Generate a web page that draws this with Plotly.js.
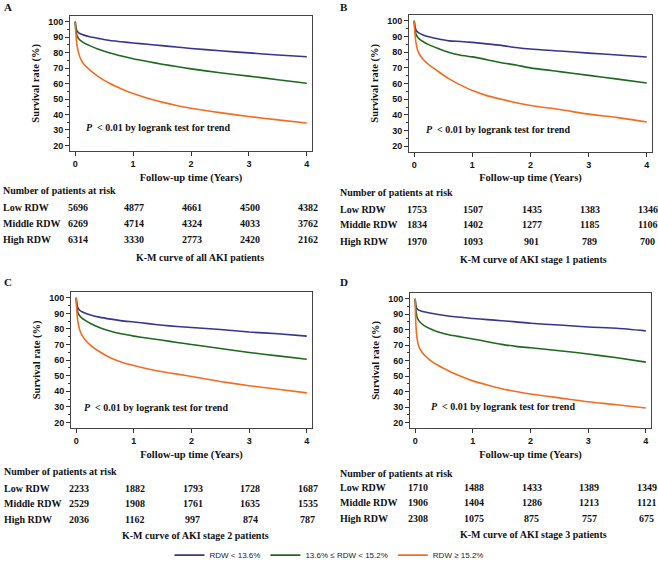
<!DOCTYPE html>
<html>
<head>
<meta charset="utf-8">
<script src="https://cdn.plot.ly/plotly-3.0.1.min.js"></script>
<style>html,body{margin:0;padding:0;background:#fff;}#chart{width:658px;height:570px;}</style>
</head>
<body>
<div id="chart"></div>
<script>
// ---- data ----
const timeYears = [0, 0.01, 0.03, 0.06, 0.1, 0.15, 0.25, 0.4, 0.6, 0.8, 1, 1.25, 1.5, 1.75, 2, 2.5, 3, 3.5, 4];

const lowA    = [100, 97, 94, 92.8, 92, 91.3, 90.3, 89.2, 87.8, 87, 86.2, 85.4, 84.5, 83.6, 82.7, 81.2, 79.8, 78.5, 77.3];
const middleA = [100, 95, 91, 89, 87.6, 86.3, 84.5, 82.2, 79.8, 77.8, 76, 74.2, 72.5, 71, 69.5, 67, 64.8, 62.5, 60.2];
const highA   = [100, 93, 85, 79.5, 75.5, 72.5, 68.8, 64.5, 60, 56.5, 53.5, 50.5, 48, 45.8, 44, 41.2, 38.7, 36.5, 34.5];

const lowB    = [100, 97, 94, 92.8, 91.8, 91, 89.8, 88.5, 87.2, 86.8, 86.2, 85.3, 84.3, 83, 82, 80.7, 79.4, 78.2, 76.9];
const middleB = [100, 95, 91.5, 89.5, 88, 86.8, 84.8, 82.5, 79.8, 78, 77, 75.2, 73.3, 71.8, 70, 67.6, 65.2, 62.8, 60.4];
const highB   = [100, 93, 86, 81, 78, 75.5, 72, 68, 63, 59, 55.5, 52.3, 50, 47.8, 46, 43.5, 40.5, 38.3, 35.5];

const lowC    = [100, 96.5, 93.5, 92, 91, 90.2, 89, 87.6, 86.3, 85.2, 84.5, 83.4, 82.4, 81.6, 80.9, 79.6, 78, 76.9, 75.4];
const middleC = [100, 95, 90.5, 88.5, 87, 85.7, 83.5, 81, 78.5, 76.7, 75.4, 74, 72.7, 71.3, 70, 67.5, 64.9, 62.7, 60.6];
const highC   = [100, 92, 84.5, 79.5, 76, 73.3, 69.5, 65.5, 61.3, 58.5, 56.5, 54.3, 52.5, 51, 49.5, 46.3, 43.6, 41.3, 39];

const lowD    = [100, 96, 93.5, 92.6, 92.1, 91.6, 90.8, 89.8, 88.7, 88, 87.2, 86.5, 85.8, 85, 84.1, 83, 81.7, 80.9, 79.2];
const middleD = [100, 93.5, 88.5, 86, 84.3, 82.8, 80.8, 78.5, 76.5, 75.3, 74, 72.2, 70.5, 69.2, 68.3, 66.4, 64.3, 61.8, 59];
const highD   = [100, 85, 75, 69.5, 66.5, 64, 60.5, 56.8, 53, 49.7, 46.9, 44.2, 41.8, 40, 38.4, 35.9, 33.4, 31.5, 29.4];

const riskTimes = [0, 1, 2, 3, 4];
const riskLowA = [5696, 4877, 4661, 4500, 4382];
const riskMidA = [6269, 4714, 4324, 4033, 3762];
const riskHighA = [6314, 3330, 2773, 2420, 2162];
const riskLowB = [1753, 1507, 1435, 1383, 1346];
const riskMidB = [1834, 1402, 1277, 1185, 1106];
const riskHighB = [1970, 1093, 901, 789, 700];
const riskLowC = [2233, 1882, 1793, 1728, 1687];
const riskMidC = [2529, 1908, 1761, 1635, 1535];
const riskHighC = [2036, 1162, 997, 874, 787];
const riskLowD = [1710, 1488, 1433, 1389, 1349];
const riskMidD = [1906, 1404, 1286, 1213, 1121];
const riskHighD = [2308, 1075, 875, 757, 675];

const groupNames = ["RDW < 13.6%", "13.6% \u2264 RDW < 15.2%", "RDW \u2265 15.2%"];
const rowLabels = ["Low RDW", "Middle RDW", "High RDW"];
const panelLetters = ["A", "B", "C", "D"];
const panelTitles = ["K-M curve of all AKI patients", "K-M curve of AKI stage 1 patients",
                     "K-M curve of AKI stage 2 patients", "K-M curve of AKI stage 3 patients"];
const pText = "<i>P</i>  < 0.01 by logrank test for trend";

// ---- layout helpers ----
const W = 658, H = 570;
const colors = ["#35358f", "#1d6a1d", "#f26d1f"];
const serif = "Liberation Serif, Times New Roman, serif";
const sans = "Liberation Sans, Arial, sans-serif";

const panels = [
  {low: lowA, mid: middleA, high: highA, rl: riskLowA, rm: riskMidA, rh: riskHighA,
   box: [70, 312, 16, 153], labX: 1, rows: [193, 210, 227, 243, 261], titleX: 200, letter: [2, 7], pPos: [0.15, 31.5]},
  {low: lowB, mid: middleB, high: highB, rl: riskLowB, rm: riskMidB, rh: riskHighB,
   box: [409, 652, 15, 154], labX: 338, rows: [195, 212, 228, 245, 263], titleX: 533, letter: [338, 7], pPos: [0.17, 30.8]},
  {low: lowC, mid: middleC, high: highC, rl: riskLowC, rm: riskMidC, rh: riskHighC,
   box: [71, 312, 296, 434], labX: 2, rows: [478, 495, 511, 527, 543], titleX: 195, letter: [2, 286], pPos: [0.10, 29.5]},
  {low: lowD, mid: middleD, high: highD, rl: riskLowD, rm: riskMidD, rh: riskHighD,
   box: [410, 651, 297, 434], labX: 338, rows: [480, 494, 510, 526, 542], titleX: 533, letter: [338, 286], pPos: [0.24, 30.2]}
];

const traces = [];
const annotations = [];
const layout = {
  width: W, height: H,
  margin: {l: 0, r: 0, t: 0, b: 0},
  paper_bgcolor: "#fff", plot_bgcolor: "#fff",
  showlegend: true,
  legend: {orientation: "h", x: 0.5, xanchor: "center", y: 1 - 563 / H, yanchor: "middle",
           font: {family: sans, size: 8, color: "#222"}, itemwidth: 30, tracegroupgap: 0,
           bgcolor: "rgba(0,0,0,0)"},
  annotations: annotations
};

panels.forEach((p, i) => {
  const sfx = i === 0 ? "" : String(i + 1);
  const xa = "xaxis" + sfx, ya = "yaxis" + sfx;
  const xr = "x" + sfx, yr = "y" + sfx;
  [p.low, p.mid, p.high].forEach((ys, g) => {
    traces.push({
      type: "scatter", mode: "lines", x: timeYears, y: ys,
      xaxis: xr, yaxis: yr, name: groupNames[g], legendgroup: "g" + g,
      showlegend: i === 0,
      line: {color: colors[g], width: 1.6, shape: "spline", smoothing: 0.6},
      hoverinfo: "skip"
    });
  });
  layout[xa] = {
    domain: [p.box[0] / W, p.box[1] / W], anchor: yr,
    range: [-0.09, 4.09], tickvals: [0, 1, 2, 3, 4], ticks: "outside", ticklen: 4,
    tickcolor: "#333", showline: true, mirror: true, linecolor: "#444", linewidth: 1,
    showgrid: false, zeroline: false,
    tickfont: {family: sans, size: 9, color: "#111", weight: "bold"},
    title: {text: "<b>Follow-up time (Years)</b>", font: {family: serif, size: 10.5, color: "#111"}, standoff: 5}
  };
  layout[ya] = {
    domain: [1 - p.box[3] / H, 1 - p.box[2] / H], anchor: xr,
    range: [16.5, 103.8], tickvals: [20, 30, 40, 50, 60, 70, 80, 90, 100], ticks: "outside", ticklen: 4,
    tickcolor: "#333", showline: true, mirror: true, linecolor: "#444", linewidth: 1,
    showgrid: false, zeroline: false,
    minor: {tickvals: [25, 35, 45, 55, 65, 75, 85, 95], ticks: "outside", ticklen: 2, tickcolor: "#333"},
    tickfont: {family: sans, size: 9, color: "#111", weight: "bold"},
    title: {text: "<b>Survival rate (%)</b>", font: {family: serif, size: 10.5, color: "#111"}, standoff: 6}
  };
  // panel letter
  annotations.push({xref: "paper", yref: "paper", x: p.letter[0] / W, y: 1 - p.letter[1] / H,
    xanchor: "left", yanchor: "middle", showarrow: false, text: "<b>" + panelLetters[i] + "</b>",
    font: {family: serif, size: 11, color: "#111"}});
  // p-value text
  annotations.push({xref: xr, yref: yr, x: p.pPos[0], y: p.pPos[1], xanchor: "left", yanchor: "middle",
    showarrow: false, text: "<b>" + pText + "</b>", font: {family: serif, size: 10, color: "#111"}});
  // risk table
  const tfont = {family: serif, size: 10, color: "#111"};
  annotations.push({xref: "paper", yref: "paper", x: p.labX / W, y: 1 - p.rows[0] / H,
    xanchor: "left", yanchor: "middle", showarrow: false, text: "<b>Number of patients at risk</b>", font: tfont});
  [p.rl, p.rm, p.rh].forEach((vals, r) => {
    const yy = 1 - p.rows[r + 1] / H;
    annotations.push({xref: "paper", yref: "paper", x: p.labX / W, y: yy,
      xanchor: "left", yanchor: "middle", showarrow: false, text: "<b>" + rowLabels[r] + "</b>", font: tfont});
    vals.forEach((v, k) => {
      annotations.push({xref: xr, yref: "paper", x: riskTimes[k], y: yy, xanchor: "center", yanchor: "middle",
        xshift: k === 0 ? 3 : 1,
        showarrow: false, text: "<b>" + v + "</b>", font: tfont});
    });
  });
  annotations.push({xref: "paper", yref: "paper", x: p.titleX / W, y: 1 - p.rows[4] / H,
    xanchor: "center", yanchor: "middle", showarrow: false, text: "<b>" + panelTitles[i] + "</b>", font: tfont});
});

Plotly.newPlot("chart", traces, layout, {displayModeBar: false, staticPlot: true});
</script>
</body>
</html>
